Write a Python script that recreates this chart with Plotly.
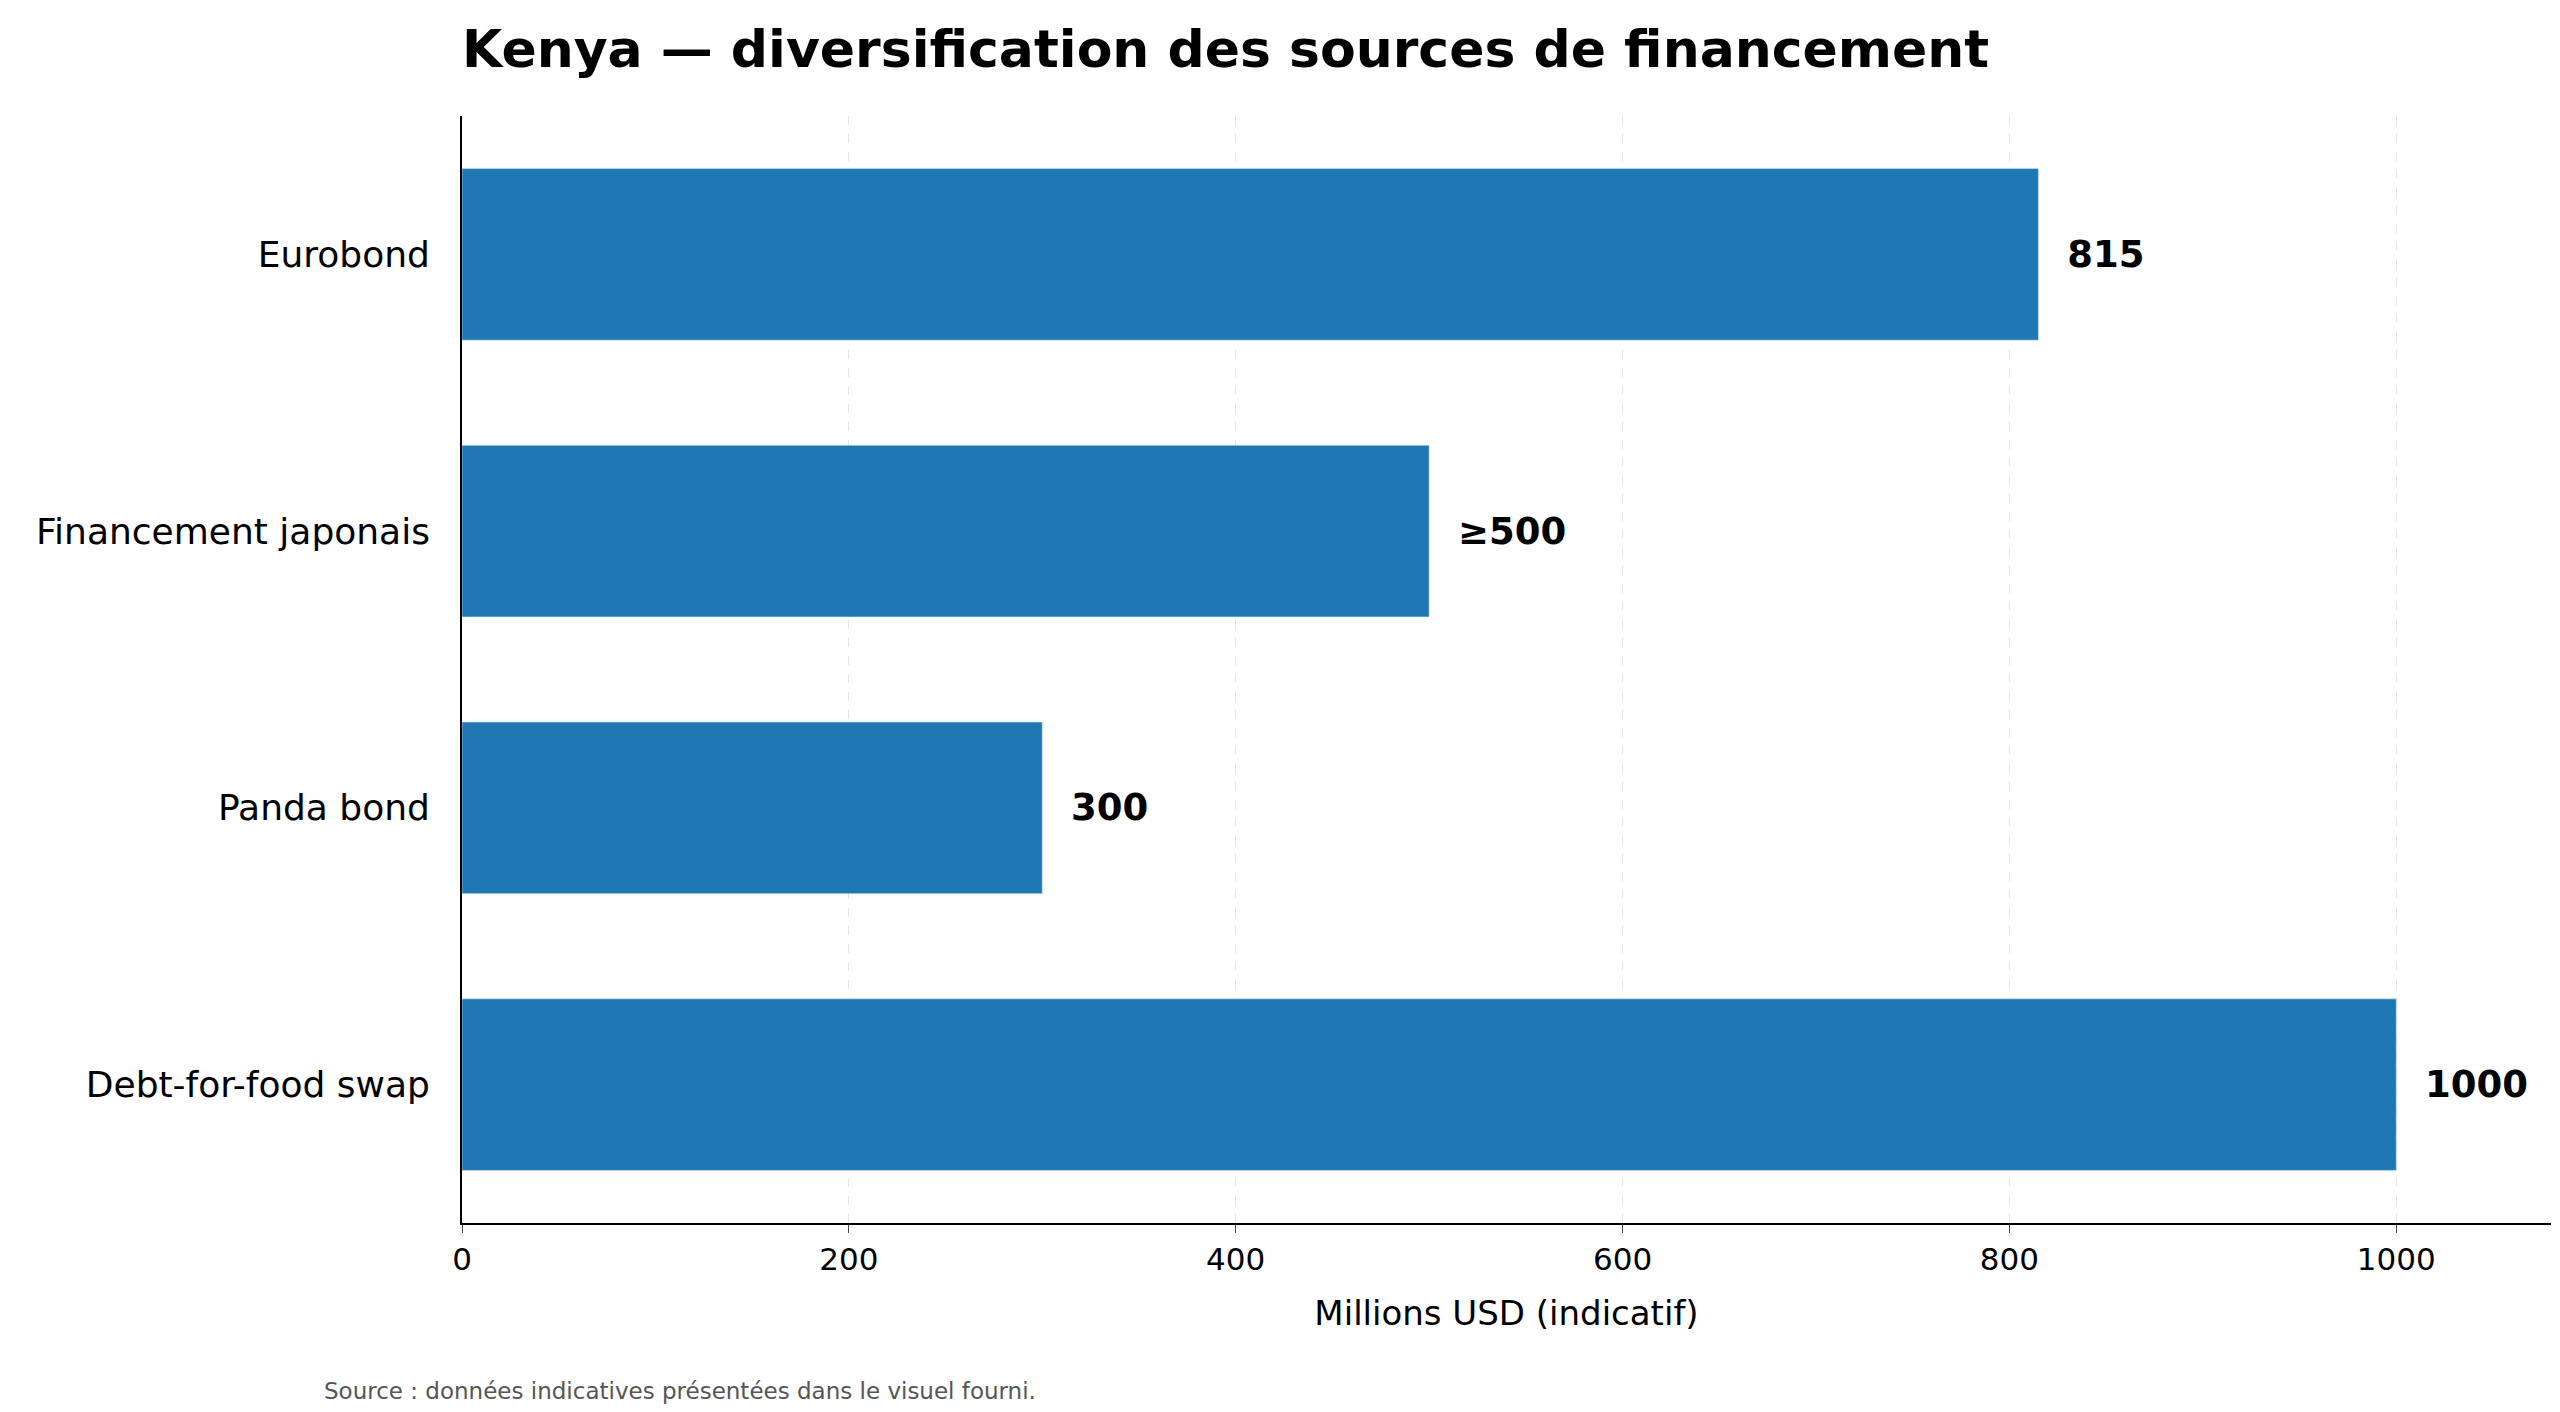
import plotly.graph_objects as go

categories = ["Eurobond", "Financement japonais", "Panda bond", "Debt-for-food swap"]
values = [815, 500, 300, 1000]
labels = ["815", "≥500", "300", "1000"]
x_ticks = [0, 200, 400, 600, 800, 1000]

fig = go.Figure(go.Bar(
    y=categories, x=values, orientation="h",
    marker_color="#1f77b4", width=0.62,
    text=labels, textposition="outside",
    textfont=dict(size=37, color="black", family="DejaVu Sans"),
    texttemplate="<b>  %{text}</b>", cliponaxis=False,
))

fig.update_layout(
    width=2560, height=1412,
    plot_bgcolor="white", paper_bgcolor="white",
    font=dict(family="DejaVu Sans", color="black"),
    margin=dict(l=454, r=17, t=108, b=197),
    title=dict(text="<b>Kenya — diversification des sources de financement</b>",
               x=454 / 2560, xanchor="left", y=1 - 41 / 1412, yanchor="middle",
               font=dict(size=52)),
    showlegend=False,
)
fig.update_yaxes(autorange="reversed", showline=True, linecolor="black", linewidth=2,
                 ticks="", tickfont=dict(size=36), ticksuffix="  ", showgrid=False)
fig.update_xaxes(range=[0, 1080], tickvals=x_ticks, showline=True, linecolor="black",
                 linewidth=2, ticks="outside", ticklen=8, tickfont=dict(size=31),
                 showgrid=True, gridcolor="#e6e6e6", griddash="dash", zeroline=False,
                 title=dict(text="Millions USD (indicatif)", font=dict(size=34), standoff=25))
fig.add_annotation(text="Source : données indicatives présentées dans le visuel fourni.",
                   xref="paper", yref="paper", x=(314 - 454) / 2089, y=-(1383 - 1215) / 1107,
                   xanchor="left", yanchor="middle", showarrow=False,
                   font=dict(size=23, color="#555555"))

fig.write_html("out.html")
